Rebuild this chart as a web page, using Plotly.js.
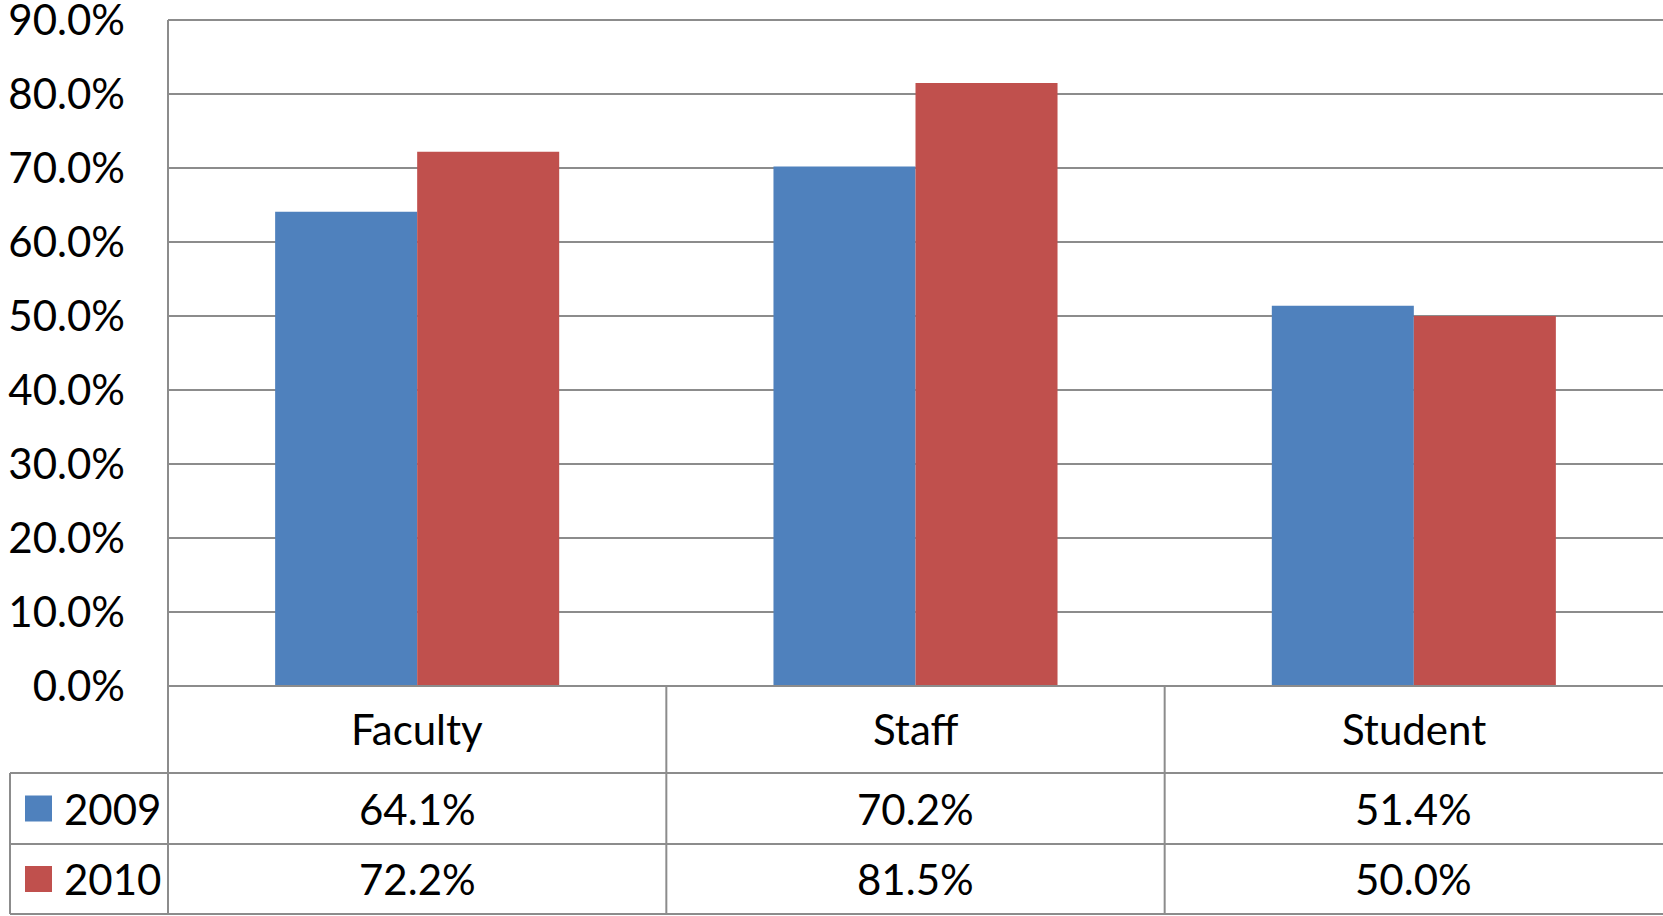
<!DOCTYPE html>
<html>
<head>
<meta charset="utf-8">
<script src="https://cdn.plot.ly/plotly-3.0.1.min.js"></script>
<style>
html,body{margin:0;padding:0;background:#fff;}
#chart{width:1663px;height:916px;}
</style>
</head>
<body>
<div id="chart"></div>
<script>
const categories = ["Faculty", "Staff", "Student"];
const seriesNames = ["2009", "2010"];
const values2009 = [0.641, 0.702, 0.514];
const values2010 = [0.722, 0.815, 0.500];
const seriesColors = ["#4F81BD", "#C0504D"];

const W = 1663, H = 916;
const L = 168, R = 0, T = 20, B = 230;
const plotW = W - L - R, plotH = H - T - B;
const axisY = H - B;           // 686 (0% line)
const FONT = "Lato, 'Liberation Sans', sans-serif";
const FS = 42;
const GRID = "#8c8c8c";

// table row boundaries in pixels (from top)
const rowCat = 773, row09 = 844, row10 = 914;
const py = p => (axisY - p) / plotH;      // pixel y -> paper y
const pxp = p => (p - L) / plotW;          // pixel x -> paper x

const allSeries = [values2009, values2010];
const traces = allSeries.map((vals, i) => ({
  type: "bar",
  name: seriesNames[i],
  x: categories,
  y: vals,
  marker: {color: seriesColors[i], line: {width: 0}},
  hoverinfo: "none",
  showlegend: false
}));

const fmt = v => (v * 100).toFixed(1) + "%";
const annotations = [];
categories.forEach((c, j) => {
  annotations.push({x: c, xref: "x", y: py((axisY + rowCat) / 2), yref: "paper",
    text: c, showarrow: false, font: {family: FONT, size: FS, color: "#000"},
    xanchor: "center", yanchor: "middle"});
  allSeries.forEach((vals, i) => {
    const top = i === 0 ? rowCat : row09, bot = i === 0 ? row09 : row10;
    annotations.push({x: c, xref: "x", y: py((top + bot) / 2), yref: "paper",
      text: fmt(vals[j]), showarrow: false, font: {family: FONT, size: FS, color: "#000"},
      xanchor: "center", yanchor: "middle"});
  });
});
// legend labels
seriesNames.forEach((n, i) => {
  const top = i === 0 ? rowCat : row09, bot = i === 0 ? row09 : row10;
  annotations.push({x: pxp(62), xref: "paper", y: py((top + bot) / 2), yref: "paper",
    text: n, showarrow: false, font: {family: FONT, size: FS, color: "#000"},
    xanchor: "left", yanchor: "middle"});
});

const shapes = [];
const line = {color: GRID, width: 2};
// horizontal table lines
[rowCat, row09, row10].forEach(p => shapes.push({type: "line", xref: "paper", yref: "paper",
  x0: pxp(10), x1: 1, y0: py(p), y1: py(p), line}));
// top (90%) line
shapes.push({type: "line", xref: "paper", yref: "paper", x0: 0, x1: 1, y0: 1, y1: 1, line});
// left border of plot + table
shapes.push({type: "line", xref: "paper", yref: "paper", x0: 0, x1: 0, y0: 1, y1: py(row10), line});
// legend column left border
shapes.push({type: "line", xref: "paper", yref: "paper", x0: pxp(10), x1: pxp(10), y0: py(rowCat), y1: py(row10), line});
// category separators
[0.5, 1.5].forEach(xv => shapes.push({type: "line", xref: "x", yref: "paper", x0: xv, x1: xv,
  y0: 0, y1: py(row10), line}));
// legend swatches
seriesColors.forEach((col, i) => {
  const top = i === 0 ? rowCat : row09, bot = i === 0 ? row09 : row10;
  const mid = (top + bot) / 2;
  shapes.push({type: "rect", xref: "paper", yref: "paper", x0: pxp(25), x1: pxp(52),
    y0: py(mid - 13), y1: py(mid + 13), fillcolor: col, line: {width: 0}});
});
// x axis baseline
shapes.push({type: "line", xref: "paper", yref: "paper", x0: 0, x1: 1, y0: 0, y1: 0, line});

const layout = {
  width: W, height: H,
  margin: {l: L, r: R, t: T, b: B, pad: 0},
  paper_bgcolor: "#fff", plot_bgcolor: "#fff",
  barmode: "group", bargap: 0.43, bargroupgap: 0,
  showlegend: false,
  font: {family: FONT, size: FS, color: "#000"},
  xaxis: {type: "category", range: [-0.5, 2.5], showticklabels: false, ticks: "",
    showgrid: false, zeroline: false, showline: false, fixedrange: true},
  yaxis: {range: [0, 0.9], tickvals: [0, 0.1, 0.2, 0.3, 0.4, 0.5, 0.6, 0.7, 0.8, 0.9],
    tickformat: ".1%", ticklabeloverflow: "allow",
    showgrid: true, gridcolor: GRID, gridwidth: 1.5, zeroline: false,
    showline: false, ticks: "", ticklabelstandoff: 42,
    tickfont: {family: FONT, size: FS, color: "#000"}, fixedrange: true},
  shapes, annotations
};

Plotly.newPlot("chart", traces, layout, {displayModeBar: false, staticPlot: true});
</script>
</body>
</html>
